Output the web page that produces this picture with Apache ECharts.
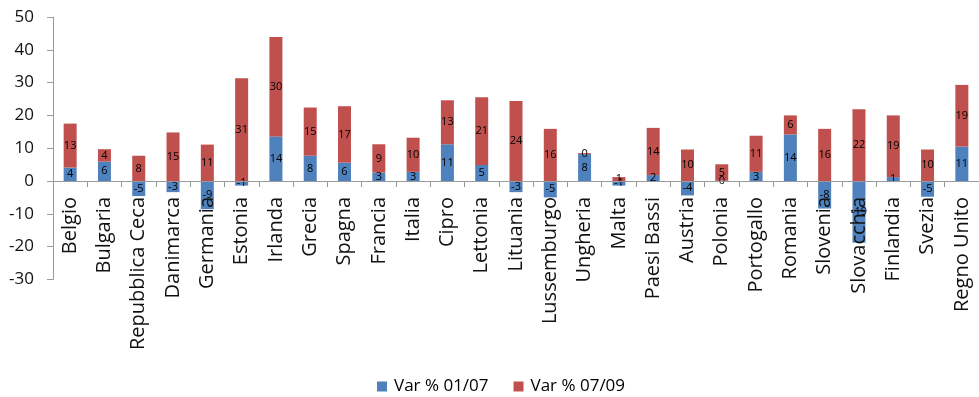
<!DOCTYPE html>
<html>
<head>
<meta charset="utf-8">
<script src="https://cdn.jsdelivr.net/npm/echarts@6/dist/echarts.min.js"></script>
<style>
  html, body { margin: 0; padding: 0; background: #fff; }
  #chart { width: 979px; height: 397px; }
</style>
</head>
<body>
<div id="chart"></div>
<script>
// Paesi UE: variazione percentuale per periodo
const categories = [
  'Belgio', 'Bulgaria', 'Repubblica Ceca', 'Danimarca', 'Germania', 'Estonia',
  'Irlanda', 'Grecia', 'Spagna', 'Francia', 'Italia', 'Cipro', 'Lettonia',
  'Lituania', 'Lussemburgo', 'Ungheria', 'Malta', 'Paesi Bassi', 'Austria',
  'Polonia', 'Portogallo', 'Romania', 'Slovenia', 'Slovacchia', 'Finlandia',
  'Svezia', 'Regno Unito'
];
const var0107 = [
  4.1, 5.9, -4.6, -3.4, -8.6, -1.4, 13.6, 7.7, 5.6, 2.6, 2.8, 11.2, 4.9,
  -3.4, -5.0, 8.2, -1.4, 1.8, -4.4, 0.1, 2.8, 14.2, -8.4, -18.8, 1.2, -4.8, 10.5
];
const var0709 = [
  13.4, 3.8, 7.7, 14.8, 11.1, 31.3, 30.3, 14.7, 17.2, 8.6, 10.4, 13.4, 20.6,
  24.4, 15.9, 0.3, 1.2, 14.4, 9.6, 5.0, 11.0, 5.8, 15.9, 21.9, 18.8, 9.6, 18.8
];
const seriesNames = ['Var % 01/07', 'Var % 07/09'];
const yTicks = { min: -30, max: 50, step: 10 };

const FONT = '"Open Sans", "Noto Sans", sans-serif';
const AXIS_COLOR = '#9a9a9a';
const CHART_H = 397;
const GRID = { left: 53, right: 0, top: 17, bottom: 117.6 };
// distance from the bottom edge of the grid up to the zero line
const plotH = CHART_H - GRID.top - GRID.bottom;
const zeroLift = plotH * (0 - yTicks.min) / (yTicks.max - yTicks.min);

const valueLabel = {
  show: true,
  position: 'inside',
  color: '#000',
  fontFamily: FONT,
  fontSize: 11,
  formatter: p => String(Math.round(p.value))
};

const chart = echarts.init(document.getElementById('chart'), null, { renderer: 'canvas' });
chart.setOption({
  animation: false,
  backgroundColor: '#fff',
  grid: Object.assign({ containLabel: false, outerBoundsMode: 'none' }, GRID),
  legend: {
    data: seriesNames,
    left: 372,
    top: 373,
    icon: 'rect',
    itemWidth: 10,
    itemHeight: 10,
    itemGap: 25,
    textStyle: { fontFamily: FONT, fontSize: 17, color: '#000', padding: [0, 0, 0, 2] }
  },
  xAxis: {
    type: 'category',
    data: categories,
    position: 'bottom',
    offset: -zeroLift,
    z: 5,
    axisLine: { show: true, onZero: false, lineStyle: { color: AXIS_COLOR, width: 1 } },
    axisTick: { show: true, interval: 0, length: 6, lineStyle: { color: AXIS_COLOR } },
    axisLabel: {
      interval: 0,
      rotate: 90,
      margin: 16,
      fontFamily: FONT,
      fontSize: 20,
      color: '#111'
    },
    splitLine: { show: false }
  },
  yAxis: {
    type: 'value',
    min: yTicks.min,
    max: yTicks.max,
    interval: yTicks.step,
    axisLine: { show: true, lineStyle: { color: AXIS_COLOR, width: 1 } },
    axisTick: { show: true, length: 6, lineStyle: { color: AXIS_COLOR } },
    axisLabel: { margin: 19, fontFamily: FONT, fontSize: 17, color: '#111' },
    splitLine: { show: false }
  },
  series: [
    {
      name: seriesNames[0],
      type: 'bar',
      stack: 'total',
      barWidth: 13,
      itemStyle: { color: '#4F81BD' },
      label: valueLabel,
      data: var0107
    },
    {
      name: seriesNames[1],
      type: 'bar',
      stack: 'total',
      barWidth: 13,
      itemStyle: { color: '#C0504D' },
      label: valueLabel,
      data: var0709
    }
  ]
});
</script>
</body>
</html>
